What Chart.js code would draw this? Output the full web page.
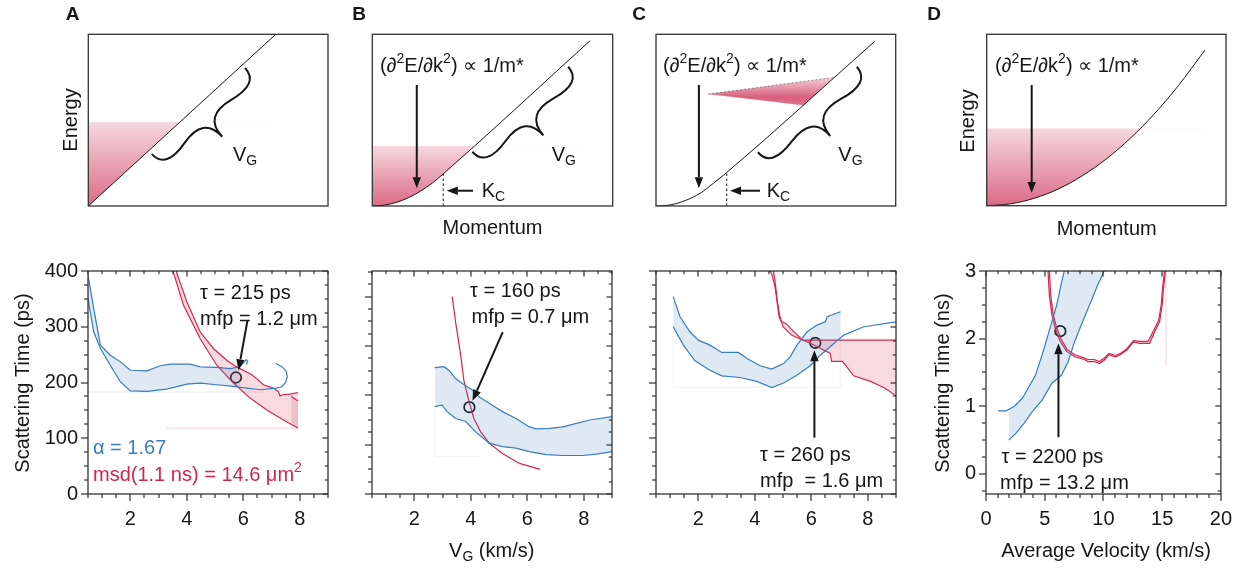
<!DOCTYPE html>
<html>
<head>
<meta charset="utf-8">
<script src="https://cdn.jsdelivr.net/npm/chart.js@4.4.1/dist/chart.umd.min.js"></script>
<style>
  body { margin: 0; background: #fff; }
  #page { position: relative; width: 1245px; height: 568px; overflow: hidden; }
  #page canvas { position: absolute; left: 0; top: 0; }
</style>
</head>
<body>
<div id="page"></div>
<script>
'use strict'

// ---- top row: schematic bands, momentum vs energy (arbitrary units 0-100) ----
const momentumA = [0, 78.2];
const energyA = [0, 100];
const fillLevelA = 49;

const momentumB = [0, 5, 10, 15, 20, 25, 29.5, 90.6];
const energyB = [0, 0.5, 2.1, 4.8, 8.6, 13.4, 18.7, 96.3];
const fillLevelB = 35.1;
const kcLineB = [[29.5, 0], [29.5, 18.7]];

const momentumC = [0, 5.8, 12.8, 18.4, 23.9, 29.5, 91.1];
const energyC = [0, 0.6, 3.5, 7.4, 13.2, 19.5, 95.7];
const kcLineC = [[29.5, 0], [29.5, 19.5]];
const wedgeTopC = [[21.8, 65.2], [74, 74.8]];
const wedgeBottomC = [[21.8, 65.2], [61.5, 58.7], [74, 74.8]];

const momentumD = [0, 10, 20, 30, 40, 50, 60, 70, 80, 91.2];
const energyD = [0, 1.1, 4.4, 9.8, 17.5, 27.3, 39.3, 53.5, 69.9, 90.8];
const fillLevelD = 45.2;

// ---- bottom row: scattering time vs velocity ----
const vgTickLabels = [2, 4, 6, 8];
const psTickLabels = [0, 100, 200, 300, 400];
const velTickLabels = [0, 5, 10, 15, 20];
const nsTickLabels = [0, 1, 2, 3];

// panel A (ps)
const aBlueUpper = [[0.5,393],[0.7,333],[0.94,267],[1.29,249],[1.65,237],[2.0,222],[2.59,221],[3.06,230],[3.41,233],[4.12,233],[4.47,228],[5.06,227],[5.53,225],[5.88,228]];
const aBlueLower = [[0.5,351],[0.7,291],[0.94,261],[1.29,231],[1.65,201],[2.0,185],[2.59,184],[3.29,188],[4.0,197],[4.47,199],[5.06,196],[5.65,193],[6.12,190],[6.59,187],[7.18,190]];
const aBlueCurl = [[5.88,228],[6.02,236],[6.1,241],[6.16,238],[6.1,232]];
const aBlueTail = [[7.18,190],[7.35,192],[7.5,200],[7.56,210],[7.52,220],[7.38,228],[7.15,234]];
const aBlueBase = [[0.5,183],[6.7,183]];
const aRedUpper = [[3.62,400],[4.0,345],[4.47,291],[4.94,261],[5.41,240],[5.76,228],[6.12,219],[6.3,214],[6.47,207],[6.71,196],[7.06,190],[7.24,184],[7.3,176],[7.41,178],[7.65,179],[7.94,182]];
const aRedLower = [[3.51,400],[3.88,339],[4.47,279],[5.06,231],[5.65,199],[6.24,172],[6.82,151],[7.41,133],[7.94,118]];
const aRedInner = [[7.7,175],[7.94,167]];
const aRedBase = [[3.24,118],[7.94,118]];
const aTau = [[5.74, 209]];

// panel B
const bBlueUpper = [[2.72,256],[3.05,258],[3.22,251],[3.46,234],[3.7,224],[4.05,211],[4.29,197],[4.65,184],[5.12,167],[5.6,153],[6.07,136],[6.31,132],[6.79,133],[7.26,136],[7.74,143],[8.21,150],[9.01,157]];
const bBlueLower = [[2.72,177],[2.98,180],[3.16,167],[3.46,153],[3.82,147],[4.17,126],[4.65,103],[5.12,96],[5.6,93],[6.07,86],[6.67,80],[7.26,78],[7.97,78],[8.45,81],[9.01,86]];
const bBlueBase = [[2.72,177],[2.72,76],[4.3,76]];
const bRed = [[3.34,400],[3.46,349],[3.64,282],[3.76,228],[3.94,187],[4.11,153],[4.35,126],[4.65,103],[5.12,82],[5.72,62],[6.45,50]];
const bTau = [[3.95, 176]];

// panel C
const cBlueUpper = [[1.11,354],[1.35,318],[1.7,291],[2.0,276],[2.41,267],[2.83,254],[3.42,254],[3.72,243],[4.19,230],[4.6,224],[5.02,234],[5.25,246],[5.49,267],[5.85,291],[6.2,303],[6.5,309],[6.56,318],[7.03,327]];
const cBlueLower = [[1.11,300],[1.47,267],[1.88,239],[2.41,222],[2.83,212],[3.48,209],[4.07,202],[4.6,191],[5.02,199],[5.49,213],[5.96,230],[6.32,249],[6.67,264],[7.15,285],[7.86,300],[9.02,309]];
const cBlueBase = [[1.11,300],[1.11,191],[7.03,191],[7.03,327]];
const cRedUpper = [[4.54,400],[4.6,395],[4.72,370],[4.8,340],[4.86,318],[4.92,310],[5.1,306],[5.4,290],[5.7,276],[6.2,276],[9.0,276]];
const cRedLower = [[4.66,400],[4.72,380],[4.8,345],[4.88,320],[5.0,300],[5.3,285],[5.6,278],[5.9,272],[6.3,262],[6.67,252],[6.72,238],[7.1,238],[7.2,232],[7.5,212],[8.1,202],[8.6,190],[9.0,176]];
const cTau = [[6.14, 271]];

// panel D (ns, km/s)
const dBlueRight = [[1.94,0.5],[2.56,0.6],[3.25,0.75],[3.94,0.92],[4.78,1.09],[5.61,1.34],[6.44,1.46],[7.0,1.66],[7.56,1.96],[8.11,2.2],[8.94,2.55],[9.5,2.79],[10.06,3.0],[10.3,3.1]];
const dBlueLeft = [[1.03,0.93],[1.72,0.93],[2.42,1.0],[3.11,1.12],[3.67,1.29],[4.22,1.46],[4.78,1.76],[5.19,2.0],[5.61,2.25],[6.03,2.5],[6.44,2.84],[6.67,3.0],[7.4,3.4],[10.5,4.6]];
const dRedA = [[5.25,3.1],[5.28,3.0],[5.39,2.65],[5.61,2.35],[5.89,2.15],[6.31,1.96],[6.86,1.81],[7.56,1.73],[8.39,1.69],[8.67,1.66],[9.22,1.66],[9.64,1.63],[10.06,1.68],[10.47,1.76],[11.03,1.73],[11.44,1.76],[12.0,1.83],[12.56,1.95],[13.11,1.93],[13.94,1.93],[14.36,2.1],[14.78,2.25],[15.0,2.5],[15.11,2.74],[15.28,3.0],[15.3,3.1]];
const dRedB = [[5.37,3.1],[5.4,3.0],[5.5,2.65],[5.72,2.36],[6.0,2.17],[6.4,1.99],[6.9,1.84],[7.56,1.76],[8.39,1.71],[8.67,1.69],[9.22,1.69],[9.64,1.66],[10.06,1.71],[10.47,1.78],[11.03,1.75],[11.44,1.78],[12.0,1.85],[12.56,1.97],[13.11,1.96],[13.8,1.96],[14.28,2.12],[14.7,2.27],[14.92,2.5],[15.03,2.74],[15.2,3.0],[15.22,3.1]];
const dRedBase = [[15.33,3.0],[15.33,1.61]];
const dTau = [[6.33, 2.11]];

const FONT = "'Liberation Sans', Arial, Helvetica, sans-serif";
const INK = '#161616';
const FRAME = '#333333';
const BLUE = '#3a7dbf';
const BLUE_FILL = 'rgba(58,125,191,0.17)';
const BLUE_FAINT = 'rgba(58,125,191,0.16)';
const RED = '#d3264b';
const PINK_FILL = 'rgba(222,70,105,0.2)';
const PINK_FAINT = 'rgba(222,70,105,0.2)';

Chart.defaults.font.family = FONT;
Chart.defaults.color = INK;

const page = document.getElementById('page');

function pts(arr) {
  return arr.map(p => ({ x: p[0], y: p[1] }));
}
function zip(xs, ys) {
  return xs.map((x, i) => ({ x: x, y: ys[i] }));
}

function line(data, color, extra) {
  return Object.assign({
    data: data, borderColor: color, borderWidth: 1.2, pointRadius: 0,
    fill: false, tension: 0, backgroundColor: 'rgba(0,0,0,0)'
  }, extra || {});
}

function marker(data) {
  return {
    data: pts(data), showLine: false, pointRadius: 5.3, pointHoverRadius: 5.3,
    pointBackgroundColor: '#fff', pointBorderColor: INK, pointBorderWidth: 1.7,
    borderColor: INK, backgroundColor: '#fff'
  };
}

function vGradient(chart, yTop, yBottom, stops) {
  const area = chart.chartArea;
  if (!area) return stops[0][1];
  const y = chart.scales.y;
  const g = chart.ctx.createLinearGradient(0, y.getPixelForValue(yTop), 0, y.getPixelForValue(yBottom));
  stops.forEach(s => g.addColorStop(s[0], s[1]));
  return g;
}

const bandStops = [[0, '#f5d9e0'], [1, '#dc6a86']];

// ---------- drawing helpers ----------
function richText(ctx, parts, x, y, o) {
  const size = o.size || 20;
  const weight = o.bold ? 'bold ' : '';
  let w = 0;
  parts.forEach(p => {
    ctx.font = weight + (p[1] ? size * 0.7 : size) + 'px ' + FONT;
    w += ctx.measureText(p[0]).width;
  });
  let cx = x;
  if (o.align === 'center') cx = x - w / 2;
  ctx.textBaseline = 'middle';
  ctx.textAlign = 'left';
  ctx.fillStyle = o.color || INK;
  parts.forEach(p => {
    const s = p[1] ? size * 0.7 : size;
    ctx.font = weight + s + 'px ' + FONT;
    let dy = 0;
    if (p[1] === 'sub') dy = size * 0.32;
    if (p[1] === 'sup') dy = -size * 0.33;
    ctx.fillText(p[0], cx, y + dy);
    cx += ctx.measureText(p[0]).width;
  });
}

function arrow(ctx, x1, y1, x2, y2) {
  const a = Math.atan2(y2 - y1, x2 - x1);
  const hl = 11, hw = 4.2;
  const bx = x2 - hl * Math.cos(a), by = y2 - hl * Math.sin(a);
  ctx.beginPath();
  ctx.moveTo(x1, y1);
  ctx.lineTo(bx, by);
  ctx.stroke();
  ctx.beginPath();
  ctx.moveTo(x2, y2);
  ctx.lineTo(bx + hw * Math.sin(a), by - hw * Math.cos(a));
  ctx.lineTo(bx - hw * Math.sin(a), by + hw * Math.cos(a));
  ctx.closePath();
  ctx.fill();
}

function brace(ctx, x1, y1, x2, y2, w, q) {
  let dx = x1 - x2, dy = y1 - y2;
  const len = Math.hypot(dx, dy);
  dx /= len; dy /= len;
  const qx1 = x1 + q * w * dy, qy1 = y1 - q * w * dx;
  const qx2 = (x1 - 0.25 * len * dx) + (1 - q) * w * dy, qy2 = (y1 - 0.25 * len * dy) - (1 - q) * w * dx;
  const tx = (x1 - 0.5 * len * dx) + w * dy, ty = (y1 - 0.5 * len * dy) - w * dx;
  const qx3 = x2 + q * w * dy, qy3 = y2 - q * w * dx;
  const qx4 = (x1 - 0.75 * len * dx) + (1 - q) * w * dy, qy4 = (y1 - 0.75 * len * dy) - (1 - q) * w * dx;
  ctx.beginPath();
  ctx.moveTo(x1, y1);
  ctx.quadraticCurveTo(qx1, qy1, qx2, qy2);
  ctx.quadraticCurveTo(2 * qx2 - qx1, 2 * qy2 - qy1, tx, ty);
  ctx.moveTo(x2, y2);
  ctx.quadraticCurveTo(qx3, qy3, qx4, qy4);
  ctx.quadraticCurveTo(2 * qx4 - qx3, 2 * qy4 - qy3, tx, ty);
  ctx.stroke();
}

function stepValues(min, max, step) {
  const out = [];
  const n0 = Math.ceil(min / step - 1e-6);
  const n1 = Math.floor(max / step + 1e-6);
  for (let n = n0; n <= n1; n++) out.push(n * step);
  return out;
}

// tick marks: outward on left/bottom, inward on top/right, drawn as small filled bars
function tickMarks(ctx, chart, t) {
  const a = chart.chartArea;
  const xs = chart.scales.x, ys = chart.scales.y;
  const isMajor = (v, m) => Math.abs(v / m - Math.round(v / m)) < 1e-6;
  ctx.fillStyle = FRAME;
  stepValues(xs.min, xs.max, t[0]).forEach(v => {
    const p = Math.round(xs.getPixelForValue(v));
    const L = isMajor(v, t[1]) ? 7 : 4;
    ctx.fillRect(p - 0.6, a.bottom, 1.2, L);
    ctx.fillRect(p - 0.6, a.top, 1.2, L * 0.8);
  });
  stepValues(ys.min, ys.max, t[2]).forEach(v => {
    const p = Math.round(ys.getPixelForValue(v));
    const L = isMajor(v, t[3]) ? 7 : 4;
    ctx.fillRect(a.left - L, p - 0.6, L, 1.2);
    ctx.fillRect(a.right - L * 0.8, p - 0.6, L * 0.8, 1.2);
  });
}

// one plugin per chart: frame, tick marks, arrows, braces, texts
function decor(cfg) {
  return {
    id: 'decor',
    afterDraw(chart) {
      const ctx = chart.ctx;
      const a = chart.chartArea;
      const xs = chart.scales.x, ys = chart.scales.y;
      ctx.save();
      ctx.setLineDash([]);
      ctx.strokeStyle = FRAME;
      ctx.lineWidth = 1.3;
      ctx.strokeRect(a.left, a.top, a.right - a.left, a.bottom - a.top);

      if (cfg.ticks) tickMarks(ctx, chart, cfg.ticks);

      ctx.strokeStyle = INK;
      ctx.fillStyle = INK;
      ctx.lineWidth = 2;
      (cfg.braces || []).forEach(b => {
        brace(ctx, xs.getPixelForValue(b[0]), ys.getPixelForValue(b[1]),
          xs.getPixelForValue(b[2]), ys.getPixelForValue(b[3]), b[4], 0.6);
      });
      (cfg.arrows || []).forEach(r => {
        arrow(ctx, xs.getPixelForValue(r[0]), ys.getPixelForValue(r[1]),
          xs.getPixelForValue(r[2]), ys.getPixelForValue(r[3]));
      });

      (cfg.texts || []).forEach(t => {
        if (t.rotate) {
          ctx.save();
          ctx.translate(t.x, t.y);
          ctx.rotate(-Math.PI / 2);
          richText(ctx, t.parts, 0, 0, t);
          ctx.restore();
        } else {
          richText(ctx, t.parts, t.x, t.y, t);
        }
      });
      ctx.restore();
    }
  };
}

function makeCanvas() {
  const c = document.createElement('canvas');
  c.width = 1245; c.height = 568;
  c.style.width = '1245px'; c.style.height = '568px';
  page.appendChild(c);
  return c.getContext('2d');
}

const baseOptions = {
  responsive: false,
  animation: false,
  devicePixelRatio: 1,
  events: [],
  plugins: { legend: { display: false }, tooltip: { enabled: false } }
};

function topChart(box, datasets, cfg) {
  return new Chart(makeCanvas(), {
    type: 'line',
    data: { datasets: datasets },
    options: Object.assign({}, baseOptions, {
      layout: { autoPadding: false, padding: { left: box[0], top: box[1], right: 1245 - box[2], bottom: 568 - box[3] } },
      scales: {
        x: { type: 'linear', display: false, min: 0, max: 100 },
        y: { type: 'linear', display: false, min: 0, max: 100 }
      }
    }),
    plugins: [decor(cfg)]
  });
}

function labelFilter(list) {
  return v => list.some(l => Math.abs(l - v) < 1e-6) ? String(v) : '';
}

function bottomChart(box, xr, yr, datasets, cfg) {
  const yW = yr.labels ? 60 : 0;
  const xH = 40;
  cfg.ticks = [xr.step, xr.major, yr.step, yr.major];
  return new Chart(makeCanvas(), {
    type: 'line',
    data: { datasets: datasets },
    options: Object.assign({}, baseOptions, {
      layout: { autoPadding: false, padding: { left: box[0] - yW, top: box[1], right: 1245 - box[2], bottom: 568 - box[3] - xH } },
      scales: {
        x: {
          type: 'linear', min: xr.min, max: xr.max,
          grid: { display: false, drawTicks: false, tickLength: 0 },
          border: { display: false },
          ticks: { stepSize: xr.step, autoSkip: false, maxRotation: 0, padding: 13, color: INK,
            font: { size: 20 }, callback: labelFilter(xr.labels) },
          afterFit: s => { s.height = xH; }
        },
        y: {
          type: 'linear', min: yr.min, max: yr.max,
          grid: { display: false, drawTicks: false, tickLength: 0 },
          border: { display: false },
          ticks: { stepSize: yr.step, autoSkip: false, padding: 10, color: INK,
            font: { size: 20 }, callback: labelFilter(yr.labels || []) },
          afterFit: s => { s.width = yW; }
        }
      }
    }),
    plugins: [decor(cfg)]
  });
}

const eqParts = [['(\u2202'], ['2', 'sup'], ['E/\u2202k'], ['2', 'sup'], [') \u221D 1/m*']];
const vgParts = [['V'], ['G', 'sub']];
const kcParts = [['K'], ['C', 'sub']];

// ---------- top row ----------
topChart([88.3, 34.3, 328, 206], [
  line(zip(momentumA, energyA), INK, {
    borderWidth: 1, fill: { target: { value: fillLevelA }, above: 'rgba(0,0,0,0)' },
    backgroundColor: c => vGradient(c.chart, fillLevelA, 0, bandStops)
  })
], {
  braces: [[26.5, 30.2, 65.4, 80.4, 35]],
  texts: [
    { parts: [['A']], x: 72.5, y: 15, bold: true, size: 19, align: 'center' },
    { parts: [['Energy']], x: 71.5, y: 120, rotate: true, align: 'center' },
    { parts: vgParts, x: 233, y: 155 }
  ]
});

topChart([372.3, 34.3, 612.7, 206], [
  line(zip(momentumB, energyB), INK, {
    borderWidth: 1, cubicInterpolationMode: 'monotone',
    fill: { target: { value: fillLevelB }, above: 'rgba(0,0,0,0)' },
    backgroundColor: c => vGradient(c.chart, fillLevelB, 0, bandStops)
  }),
  line(pts(kcLineB), INK, { borderWidth: 1, borderDash: [2.5, 2.5] })
], {
  braces: [[41.6, 31.6, 81.5, 81.1, 35]],
  arrows: [[18.5, 70.5, 18.5, 10.3], [41.9, 8.9, 31.0, 8.9]],
  texts: [
    { parts: [['B']], x: 359, y: 15, bold: true, size: 19, align: 'center' },
    { parts: eqParts, x: 380, y: 66 },
    { parts: vgParts, x: 551.7, y: 155 },
    { parts: kcParts, x: 481.7, y: 191 },
    { parts: [['Momentum']], x: 492.5, y: 228, align: 'center' }
  ]
});

topChart([656, 34.3, 895.7, 206], [
  line(zip(momentumC, energyC), INK, { borderWidth: 1, cubicInterpolationMode: 'monotone' }),
  line(pts(wedgeTopC), 'rgba(90,90,90,0.8)', {
    borderWidth: 0.8, borderDash: [2, 2], fill: 2,
    backgroundColor: c => vGradient(c.chart, 76, 58, [[0, '#f6dde3'], [0.7, '#d9607e'], [1, '#de7892']])
  }),
  line(pts(wedgeBottomC), 'rgba(200,120,140,0.5)', { borderWidth: 0.6 }),
  line(pts(kcLineC), INK, { borderWidth: 1, borderDash: [2.5, 2.5] })
], {
  braces: [[42.5, 31.3, 83.8, 81.1, 35]],
  arrows: [[17.9, 70.5, 17.9, 10.3], [43.4, 8.9, 30.9, 8.9]],
  texts: [
    { parts: [['C']], x: 639, y: 15, bold: true, size: 19, align: 'center' },
    { parts: eqParts, x: 663, y: 66 },
    { parts: vgParts, x: 838.3, y: 155 },
    { parts: kcParts, x: 766.7, y: 191 }
  ]
});

topChart([986.7, 34.3, 1226, 205.7], [
  line(zip(momentumD, energyD), INK, {
    borderWidth: 1, cubicInterpolationMode: 'monotone',
    fill: { target: { value: fillLevelD }, above: 'rgba(0,0,0,0)' },
    backgroundColor: c => vGradient(c.chart, fillLevelD, 0, bandStops)
  })
], {
  arrows: [[18.8, 70.4, 18.8, 7.4]],
  texts: [
    { parts: [['D']], x: 934, y: 15, bold: true, size: 19, align: 'center' },
    { parts: [['Energy']], x: 968.3, y: 121, rotate: true, align: 'center' },
    { parts: eqParts, x: 995, y: 66 },
    { parts: [['Momentum']], x: 1106.7, y: 229, align: 'center' }
  ]
});

// ---------- bottom row ----------
const vgAxis = { min: 0.5, max: 9, step: 0.5, major: 2, labels: vgTickLabels };

bottomChart([88, 271, 328, 494], vgAxis, { min: 0, max: 400, step: 25, major: 100, labels: psTickLabels }, [
  line(pts(aBlueUpper), BLUE, { fill: { target: 1, above: BLUE_FILL, below: BLUE_FILL } }),
  line(pts(aBlueLower), BLUE),
  line(pts(aBlueCurl), BLUE),
  line(pts(aBlueTail), BLUE),
  line(pts(aBlueBase), BLUE_FAINT),
  line(pts(aRedUpper), RED, { fill: { target: 6, above: PINK_FILL, below: PINK_FILL } }),
  line(pts(aRedLower), RED),
  line(pts(aRedInner), RED, { fill: { target: 6, above: PINK_FILL, below: PINK_FILL } }),
  line(pts(aRedBase), PINK_FAINT),
  marker(aTau)
], {
  arrows: [[6.15, 312, 5.83, 222]],
  texts: [
    { parts: [['Scattering Time (ps)']], x: 23, y: 383, rotate: true, align: 'center' },
    { parts: [['\u03C4 = 215 ps']], x: 200, y: 293 },
    { parts: [['mfp = 1.2 \u03BCm']], x: 200, y: 319 },
    { parts: [['\u03B1 = 1.67']], x: 93, y: 448, color: BLUE },
    { parts: [['msd(1.1 ns) = 14.6 \u03BCm'], ['2', 'sup']], x: 93, y: 475, color: RED }
  ]
});

bottomChart([372, 271, 612, 494], vgAxis, { min: 0, max: 452, step: 25, major: 100 }, [
  line(pts(bBlueUpper), BLUE, { fill: { target: 1, above: BLUE_FILL, below: BLUE_FILL } }),
  line(pts(bBlueLower), BLUE),
  line(pts(bBlueBase), 'rgba(58,125,191,0.07)'),
  line(pts(bRed), RED),
  marker(bTau)
], {
  arrows: [[5.13, 328, 4.06, 189]],
  texts: [
    { parts: [['\u03C4 = 160 ps']], x: 470, y: 291 },
    { parts: [['mfp = 0.7 \u03BCm']], x: 471.5, y: 317 },
    { parts: [['V'], ['G', 'sub'], [' (km/s)']], x: 491.7, y: 551, align: 'center' }
  ]
});

bottomChart([656, 271, 896, 494], vgAxis, { min: 0, max: 400, step: 25, major: 100 }, [
  line(pts(cBlueUpper), BLUE, { fill: { target: 1, above: BLUE_FILL, below: BLUE_FILL } }),
  line(pts(cBlueLower), BLUE),
  line(pts(cBlueBase), 'rgba(58,125,191,0.07)'),
  line(pts(cRedUpper), RED, { fill: { target: 4, above: PINK_FILL, below: PINK_FILL } }),
  line(pts(cRedLower), RED),
  marker(cTau)
], {
  arrows: [[6.11, 101, 6.11, 258]],
  texts: [
    { parts: [['\u03C4 = 260 ps']], x: 760, y: 455 },
    { parts: [['mfp  = 1.6 \u03BCm']], x: 760, y: 481 }
  ]
});

bottomChart([986, 271, 1226, 494], { min: 0, max: 20, step: 1, major: 5, labels: velTickLabels },
  { min: -0.3, max: 3, step: 0.25, major: 1, labels: nsTickLabels }, [
  line(pts(dBlueRight), BLUE, { fill: { target: 1, above: BLUE_FILL, below: BLUE_FILL } }),
  line(pts(dBlueLeft), BLUE),
  line(pts(dRedA), RED, { fill: { target: 3, above: PINK_FILL, below: PINK_FILL } }),
  line(pts(dRedB), RED),
  line(pts(dRedBase), PINK_FAINT),
  marker(dTau)
], {
  arrows: [[6.17, 0.54, 6.17, 1.93]],
  texts: [
    { parts: [['Scattering Time (ns)']], x: 943, y: 383, rotate: true, align: 'center' },
    { parts: [['\u03C4 = 2200 ps']], x: 1001.5, y: 457 },
    { parts: [['mfp = 13.2 \u03BCm']], x: 1000, y: 483 },
    { parts: [['Average Velocity (km/s)']], x: 1106, y: 551, align: 'center' }
  ]
});
</script>
</body>
</html>
